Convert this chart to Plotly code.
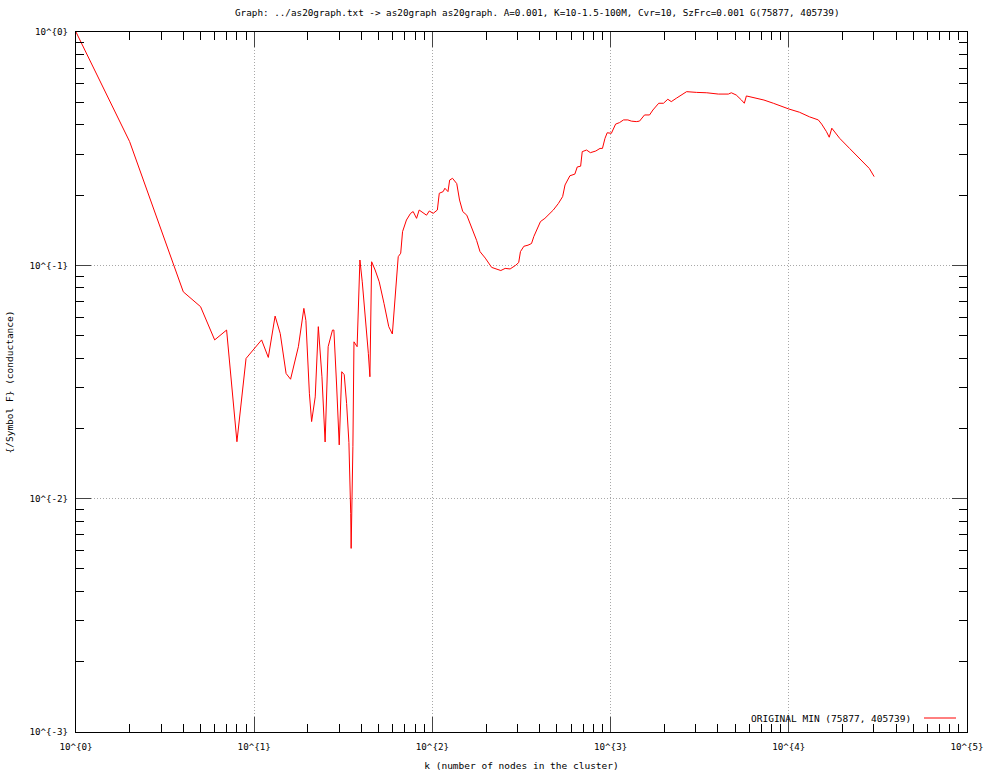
import plotly.graph_objects as go

k_vals = [1, 2, 4, 5, 6, 7, 8, 9, 11, 12, 13.1, 14, 15.1, 16, 17.7, 19.0, 19.5, 20.4, 21, 22,
          22.9, 24, 25, 26, 27.5, 28, 29, 30, 31, 32, 33, 34, 34.8, 35, 35.8, 36, 36.3, 37.8,
          39.2, 40.4, 41.7, 43.7, 44.6, 45.6, 47.7, 50.3, 53.5, 56.9, 59.6, 61.6, 63, 64.3,
          66.4, 68, 71.5, 75.4, 78, 81.5, 84.3, 92.7, 96.1, 101, 106.6, 109.3, 114.9, 117.5,
          122.3, 125, 129.7, 137, 142, 148, 156, 168, 177, 185, 198, 215, 230, 242, 256, 273,
          293, 305, 312, 326, 344, 360, 371, 384, 404, 428, 447, 477, 509, 538, 555, 591, 630,
          650, 679, 693, 733, 770, 826, 872, 900, 930, 957, 1010, 1067, 1122, 1182, 1250, 1307,
          1393, 1453, 1550, 1654, 1727, 1862, 1980, 2094, 2190, 2337, 2498, 2670, 3040, 3465,
          4023, 4580, 4760, 5070, 5425, 5630, 5780, 6386, 7253, 8190, 9160, 9990, 11480, 13060,
          14640, 15290, 16270, 16860, 17430, 19310, 21930, 24920, 28320, 30130]
phi_vals = [1.0, 0.339, 0.077, 0.0665, 0.0479, 0.0528, 0.01754, 0.0399, 0.0479, 0.0403, 0.0606,
            0.051, 0.0344, 0.0325, 0.0448, 0.0654, 0.058, 0.0283, 0.0214, 0.0273,
            0.0546, 0.0333, 0.0175, 0.0448, 0.0528, 0.0528, 0.0307, 0.017, 0.035, 0.034, 0.0256,
            0.0174, 0.00865, 0.00612, 0.0167, 0.0333, 0.047, 0.0448,
            0.1054, 0.085, 0.065, 0.042, 0.0333, 0.1036, 0.0955, 0.085, 0.0687, 0.0546, 0.0508,
            0.0709, 0.0823, 0.1089,
            0.1127, 0.1394, 0.1564, 0.167, 0.170, 0.159, 0.1726, 0.164, 0.171, 0.167, 0.1726,
            0.2036, 0.207, 0.214,
            0.207, 0.232, 0.236, 0.224, 0.1905, 0.170, 0.164, 0.1417, 0.128, 0.1145, 0.1074,
            0.098, 0.0965, 0.095, 0.097, 0.0965,
            0.1, 0.1028, 0.1145, 0.1207, 0.122, 0.124, 0.133, 0.1405, 0.154, 0.159, 0.164,
            0.1726, 0.184, 0.197, 0.221, 0.242, 0.246,
            0.264, 0.266, 0.307, 0.312, 0.304, 0.309, 0.317, 0.317, 0.350, 0.370, 0.368, 0.403,
            0.409, 0.420, 0.420, 0.415,
            0.413, 0.415, 0.441, 0.441, 0.463, 0.495, 0.495, 0.515, 0.503, 0.520, 0.537, 0.555,
            0.551, 0.549,
            0.542, 0.542, 0.549, 0.537, 0.511, 0.495, 0.532, 0.523, 0.511, 0.495, 0.478, 0.468,
            0.453, 0.433,
            0.420, 0.403, 0.374, 0.354, 0.387, 0.350, 0.317, 0.287, 0.260, 0.240]

x_tickvals = [1, 10, 100, 1000, 10000, 100000]
x_ticktext = ["10^{0}", "10^{1}", "10^{2}", "10^{3}", "10^{4}", "10^{5}"]
y_tickvals = [0.001, 0.01, 0.1, 1]
y_ticktext = ["10^{-3}", "10^{-2}", "10^{-1}", "10^{0}"]
minor_mult = [2, 3, 4, 5, 6, 7, 8, 9]

title_text = "Graph: ../as20graph.txt -> as20graph as20graph. A=0.001, K=10-1.5-100M, Cvr=10, SzFrc=0.001 G(75877, 405739)"
legend_text = "ORIGINAL MIN (75877, 405739)"

FONT = "DejaVu Sans Mono"

x_minor = [d * m for d in x_tickvals[:-1] for m in minor_mult]
y_minor = [d * m for d in y_tickvals[:-1] for m in minor_mult]

fig = go.Figure()
fig.add_trace(go.Scatter(x=k_vals, y=phi_vals, mode="lines",
                         line=dict(color="#ff0000", width=1), showlegend=False))

axis_common = dict(
    type="log", showline=True, linecolor="black", linewidth=1, mirror="allticks",
    ticks="inside", ticklen=15, tickcolor="#444444", tickwidth=1,
    showgrid=True, gridcolor="#a8a8a8", griddash="1px,2px", gridwidth=1,
    zeroline=False, automargin=False,
    tickfont=dict(family=FONT, size=9.2, color="black"),
)

fig.update_layout(
    width=985, height=775,
    margin=dict(l=76, r=18, t=32, b=43),
    paper_bgcolor="white", plot_bgcolor="white",
    font=dict(family=FONT, size=9.5, color="black"),
    xaxis=dict(axis_common, range=[0, 5], tickvals=x_tickvals, ticktext=x_ticktext,
               ticklabelstandoff=6,
               minor=dict(tickvals=x_minor, ticks="inside", ticklen=8, tickcolor="#000000",
                          tickwidth=1, showgrid=False),
               title=dict(text="k (number of nodes in the cluster)", standoff=11,
                          font=dict(family=FONT, size=9.5))),
    yaxis=dict(axis_common, range=[-3, 0], tickvals=y_tickvals, ticktext=y_ticktext,
               ticklabelstandoff=5,
               minor=dict(tickvals=y_minor, ticks="inside", ticklen=8, tickcolor="#000000",
                          tickwidth=1, showgrid=False),
               title=dict(text="{/Symbol F} (conductance)", standoff=14,
                          font=dict(family=FONT, size=9.5))),
    showlegend=False,
)

fig.add_annotation(text=title_text, xref="paper", yref="paper", x=0.518, y=1.0, yshift=20,
                   showarrow=False, xanchor="center", yanchor="middle",
                   font=dict(family=FONT, size=9.3, color="black"))
fig.add_annotation(text=legend_text, xref="paper", yref="paper", x=(913 - 76) / 891, y=(732 - 718) / 700,
                   showarrow=False, xanchor="right", yanchor="middle",
                   font=dict(family=FONT, size=9.5, color="black"))
fig.add_shape(type="line", xref="paper", yref="paper",
              x0=(924 - 76) / 891, x1=(956 - 76) / 891, y0=(732 - 718) / 700, y1=(732 - 718) / 700,
              line=dict(color="#ff0000", width=1))

fig.write_html("out.html", config={"displayModeBar": False},
               post_script="document.body.style.margin='0';document.body.style.overflow='hidden';")
